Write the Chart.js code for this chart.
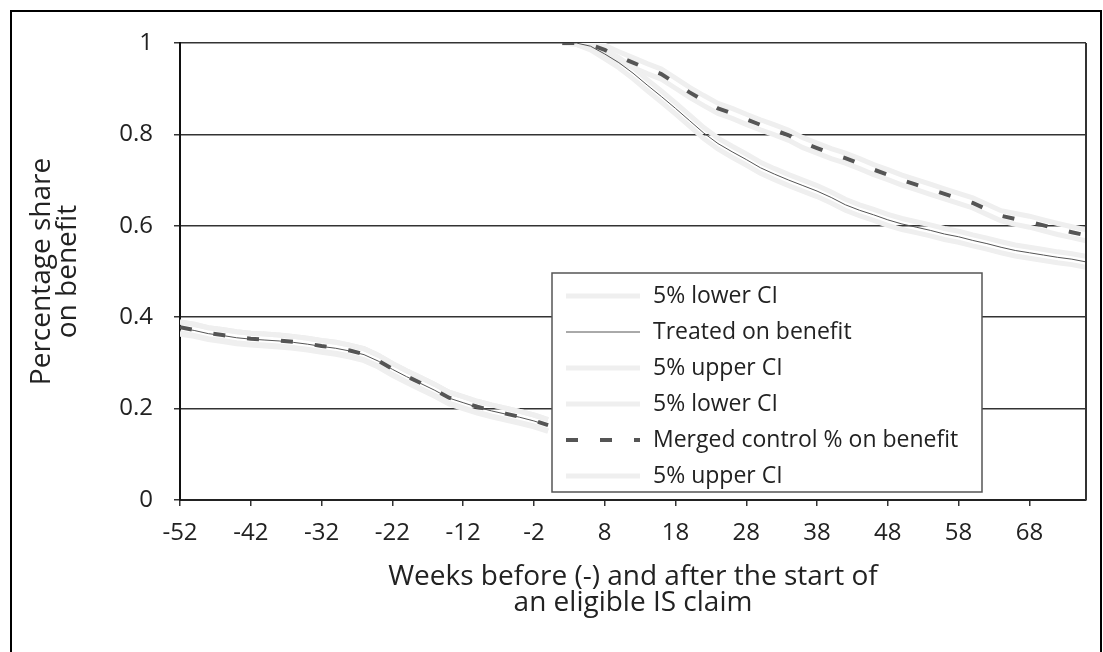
<!DOCTYPE html>
<html>
<head>
<meta charset="utf-8">
<script src="https://cdn.jsdelivr.net/npm/chart.js@4.4.1/dist/chart.umd.min.js"></script>
<style>
  body { margin: 0; background: #fff; }
  #frame { position: absolute; left: 10px; top: 10px; width: 1088px; height: 700px; border: 2px solid #000; }
  canvas { position: absolute; left: 0; top: 0; }
</style>
</head>
<body>
<div id="frame"></div>
<canvas id="chart" width="1103" height="652"></canvas>
<script>
'use strict';

// weeks before (-) and after the claim start
const PRE_WEEKS = [-52, -50, -48, -46, -44, -42, -40, -38, -36, -34, -32, -30, -28, -26,
    -24, -22, -20, -18, -16, -14, -12, -10, -8, -6, -4, -2, 0];
const POST_WEEKS = [2, 4, 6, 8, 10, 12, 14, 16, 18, 20, 22, 24, 26, 28, 30, 32, 34, 36, 38,
    40, 42, 44, 46, 48, 50, 52, 54, 56, 58, 60, 62, 64, 66, 68, 70, 72, 74, 76];
const X_TICKS = [-52, -42, -32, -22, -12, -2, 8, 18, 28, 38, 48, 58, 68];

const TREATED_LOW_PRE = [0.363, 0.358, 0.351, 0.347, 0.342, 0.339, 0.337, 0.335, 0.332, 0.328, 0.323, 0.319, 0.313, 0.305,
    0.291, 0.273, 0.257, 0.242, 0.227, 0.210, 0.200, 0.190, 0.182, 0.175, 0.168, 0.160, 0.150];
const TREATED_LOW_POST = [1.0, 0.997, 0.985, 0.966, 0.946, 0.922, 0.896, 0.871, 0.845, 0.818, 0.791, 0.768, 0.750, 0.733,
    0.715, 0.701, 0.688, 0.676, 0.664, 0.650, 0.634, 0.622, 0.612, 0.601, 0.592, 0.585, 0.578, 0.570, 0.564, 0.556,
    0.549, 0.541, 0.534, 0.529, 0.524, 0.519, 0.515, 0.509];

const TREATED_PRE = [0.376, 0.371, 0.364, 0.360, 0.355, 0.352, 0.350, 0.348, 0.345, 0.341, 0.336, 0.332, 0.326, 0.318,
    0.304, 0.286, 0.270, 0.255, 0.240, 0.223, 0.213, 0.203, 0.195, 0.188, 0.181, 0.173, 0.163];
const TREATED_POST = [1.0, 1.0, 0.993, 0.976, 0.957, 0.934, 0.908, 0.883, 0.857, 0.830, 0.803, 0.780, 0.762, 0.745,
    0.727, 0.713, 0.700, 0.688, 0.676, 0.662, 0.646, 0.634, 0.624, 0.613, 0.604, 0.597, 0.590, 0.582, 0.576, 0.568,
    0.561, 0.553, 0.546, 0.541, 0.536, 0.531, 0.527, 0.521];

const TREATED_UP_PRE = [0.389, 0.385, 0.377, 0.373, 0.368, 0.365, 0.363, 0.361, 0.358, 0.354, 0.349, 0.345, 0.339, 0.331,
    0.317, 0.299, 0.283, 0.268, 0.253, 0.236, 0.226, 0.216, 0.208, 0.201, 0.194, 0.186, 0.176];
const TREATED_UP_POST = [1.0, 1.0, 1.0, 0.986, 0.968, 0.946, 0.920, 0.895, 0.869, 0.842, 0.815, 0.792, 0.774, 0.757,
    0.739, 0.725, 0.712, 0.700, 0.688, 0.674, 0.658, 0.646, 0.636, 0.625, 0.616, 0.609, 0.602, 0.594, 0.588, 0.580,
    0.573, 0.565, 0.558, 0.553, 0.548, 0.543, 0.539, 0.533];

const CONTROL_LOW_PRE = [0.366, 0.360, 0.353, 0.349, 0.344, 0.341, 0.339, 0.337, 0.334, 0.330, 0.325, 0.321, 0.315, 0.307,
    0.293, 0.275, 0.259, 0.244, 0.229, 0.212, 0.202, 0.192, 0.184, 0.177, 0.170, 0.162, 0.152];
const CONTROL_LOW_POST = [1.0, 0.997, 0.988, 0.975, 0.959, 0.946, 0.933, 0.921, 0.901, 0.881, 0.863, 0.846, 0.835, 0.822,
    0.810, 0.799, 0.787, 0.771, 0.759, 0.747, 0.737, 0.725, 0.712, 0.701, 0.689, 0.679, 0.669, 0.659, 0.649, 0.639,
    0.625, 0.611, 0.603, 0.597, 0.589, 0.581, 0.574, 0.567];

const CONTROL_PRE = [0.378, 0.372, 0.365, 0.361, 0.356, 0.353, 0.351, 0.349, 0.346, 0.342, 0.337, 0.333, 0.327, 0.319,
    0.305, 0.287, 0.271, 0.256, 0.241, 0.224, 0.214, 0.204, 0.196, 0.189, 0.182, 0.174, 0.164];
const CONTROL_POST = [1.0, 1.0, 0.996, 0.985, 0.970, 0.957, 0.944, 0.932, 0.912, 0.892, 0.874, 0.857, 0.846, 0.833,
    0.821, 0.810, 0.798, 0.782, 0.770, 0.758, 0.748, 0.736, 0.723, 0.712, 0.700, 0.690, 0.680, 0.670, 0.660, 0.650,
    0.636, 0.622, 0.615, 0.609, 0.601, 0.593, 0.586, 0.579];

const CONTROL_UP_PRE = [0.390, 0.384, 0.377, 0.373, 0.368, 0.365, 0.363, 0.361, 0.358, 0.354, 0.349, 0.345, 0.339, 0.331,
    0.317, 0.299, 0.283, 0.268, 0.253, 0.236, 0.226, 0.216, 0.208, 0.201, 0.194, 0.186, 0.176];
const CONTROL_UP_POST = [1.0, 1.0, 1.0, 0.995, 0.981, 0.968, 0.955, 0.943, 0.923, 0.903, 0.885, 0.868, 0.857, 0.844,
    0.832, 0.821, 0.809, 0.793, 0.781, 0.769, 0.759, 0.747, 0.734, 0.723, 0.711, 0.701, 0.691, 0.681, 0.671, 0.661,
    0.647, 0.633, 0.627, 0.621, 0.613, 0.605, 0.598, 0.591];

const FONT = '"Open Sans", sans-serif';
const CI_COLOR = '#efefef';
const LINE_COLOR = '#555';

// pre and post periods joined with a gap in between
let toPoints = (pre, post) => [
    ...PRE_WEEKS.map((w, i) => ({ x: w, y: pre[i] })),
    { x: 1, y: null },
    ...POST_WEEKS.map((w, i) => ({ x: w, y: post[i] }))
];

let ciSet = (label, pre, post) => ({
    label: label,
    data: toPoints(pre, post),
    borderColor: CI_COLOR,
    borderWidth: 5,
    order: 2
});

const DATASETS = [
    ciSet('5% lower CI', TREATED_LOW_PRE, TREATED_LOW_POST),
    {
        label: 'Treated on benefit',
        data: toPoints(TREATED_PRE, TREATED_POST),
        borderColor: LINE_COLOR,
        borderWidth: 1,
        order: 1
    },
    ciSet('5% upper CI', TREATED_UP_PRE, TREATED_UP_POST),
    ciSet('5% lower CI', CONTROL_LOW_PRE, CONTROL_LOW_POST),
    {
        label: 'Merged control % on benefit',
        data: toPoints(CONTROL_PRE, CONTROL_POST),
        borderColor: LINE_COLOR,
        borderWidth: 4,
        borderDash: [12, 22],
        order: 0
    },
    ciSet('5% upper CI', CONTROL_UP_PRE, CONTROL_UP_POST)
];

// legend box sitting inside the plot
const legendBox = {
    id: 'legendBox',
    afterDraw(chart) {
        const ctx = chart.ctx;
        const x = 552, y = 273, w = 430, h = 219;
        ctx.save();
        ctx.fillStyle = '#fff';
        ctx.fillRect(x, y, w, h);
        ctx.strokeStyle = '#555';
        ctx.lineWidth = 1.5;
        ctx.strokeRect(x, y, w, h);
        ctx.font = '23px ' + FONT;
        ctx.textBaseline = 'middle';
        chart.data.datasets.forEach((ds, i) => {
            const cy = y + 23 + i * 36;
            ctx.beginPath();
            ctx.strokeStyle = ds.borderColor;
            ctx.lineWidth = ds.borderWidth;
            ctx.setLineDash(ds.borderDash || []);
            ctx.moveTo(x + 14, cy);
            ctx.lineTo(x + 88, cy);
            ctx.stroke();
            ctx.setLineDash([]);
            ctx.fillStyle = '#222';
            ctx.fillText(ds.label, x + 101, cy);
        });
        ctx.restore();
    }
};

// right edge of the plot area
const plotEdge = {
    id: 'plotEdge',
    afterDatasetsDraw(chart) {
        const { ctx, chartArea } = chart;
        ctx.save();
        ctx.strokeStyle = '#333';
        ctx.lineWidth = 2;
        ctx.beginPath();
        ctx.moveTo(chartArea.right, chartArea.top);
        ctx.lineTo(chartArea.right, chartArea.bottom);
        ctx.stroke();
        ctx.restore();
    }
};

window.onload = () => {
    Chart.defaults.font.family = FONT;
    Chart.defaults.font.size = 24;
    Chart.defaults.color = '#222';

    new Chart(document.getElementById('chart'), {
        type: 'line',
        data: { datasets: DATASETS },
        options: {
            responsive: false,
            animation: false,
            events: [],
            spanGaps: false,
            elements: { point: { radius: 0 }, line: { tension: 0 } },
            layout: { padding: { left: 0, top: 43, right: 17, bottom: 0 } },
            plugins: { legend: { display: false }, tooltip: { enabled: false } },
            scales: {
                x: {
                    type: 'linear',
                    min: -52,
                    max: 76,
                    afterBuildTicks: (axis) => {
                        axis.ticks = X_TICKS.map(v => ({ value: v }));
                    },
                    afterFit: (scale) => { scale.height = 152; },
                    ticks: { padding: 13, maxRotation: 0, autoSkip: false },
                    grid: { drawOnChartArea: false, tickLength: 6, color: '#333', lineWidth: 1.5 },
                    border: { color: '#222', width: 2 },
                    title: {
                        display: true,
                        text: ['Weeks before (-) and after the start of', 'an eligible IS claim'],
                        padding: { top: 0, bottom: 36 },
                        font: { size: 28, lineHeight: '26px' }
                    }
                },
                y: {
                    min: 0,
                    max: 1,
                    afterFit: (scale) => { scale.width = 180; },
                    ticks: {
                        stepSize: 0.2,
                        padding: 21,
                        callback: (v) => String(Number(v.toFixed(1)))
                    },
                    grid: { tickLength: 6, color: '#333', lineWidth: 1.5 },
                    border: { color: '#111', width: 2 },
                    title: {
                        display: true,
                        text: ['Percentage share', 'on benefit'],
                        padding: { top: 29, bottom: 0 },
                        font: { size: 28, lineHeight: '26px' }
                    }
                }
            }
        },
        plugins: [plotEdge, legendBox]
    });
};
</script>
</body>
</html>
